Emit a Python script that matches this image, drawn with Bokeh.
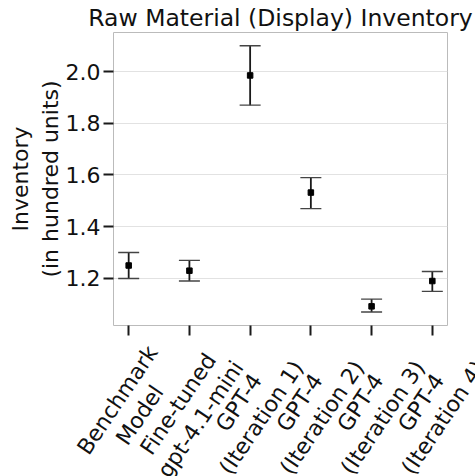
import math
from bokeh.plotting import figure
from bokeh.layouts import column, row
from bokeh.models import ColumnDataSource, Whisker, TeeHead, FixedTicker, Range1d
from bokeh.core.properties import value
from bokeh.embed import file_html
from bokeh.resources import INLINE

# Model variants and their mean inventory with confidence bounds (hundred units)
models = [
    "Benchmark\nModel",
    "Fine-tuned\ngpt-4.1-mini",
    "GPT-4\n(Iteration 1)",
    "GPT-4\n(Iteration 2)",
    "GPT-4\n(Iteration 3)",
    "GPT-4\n(Iteration 4)",
]
mean_inventory = [1.25, 1.23, 1.985, 1.532, 1.092, 1.19]
upper_bound = [1.30, 1.27, 2.10, 1.59, 1.12, 1.227]
lower_bound = [1.20, 1.19, 1.87, 1.47, 1.07, 1.15]
y_ticks = [1.2, 1.4, 1.6, 1.8, 2.0]

FONT = "DejaVu Sans"
LABEL_PX = 22
TITLE_PX = 23.5
ANGLE = 56  # degrees, category label rotation
LINE_PITCH = 27  # px between the lines of a category label

W = 475
TOP_H, BOTTOM_H = 340, 136
BORDER_L, BORDER_R, BORDER_T, BORDER_B = 113, 28, 32, 15

# approximate DejaVu Sans advance widths (em) used to size the rotated labels
_EM = {
    " ": .318, "(": .390, ")": .390, "-": .361, ".": .318,
    "B": .686, "F": .575, "G": .775, "I": .295, "M": .863, "P": .603, "T": .611,
    "a": .613, "c": .550, "d": .635, "e": .615, "g": .635, "h": .634, "i": .278,
    "k": .579, "l": .278, "m": .974, "n": .634, "o": .612, "p": .635, "r": .411,
    "t": .392, "u": .634,
}


def text_width(s, px):
    return sum(_EM.get(ch, .636) for ch in s) * px


xs = list(range(len(models)))
src = ColumnDataSource(dict(x=xs, mean=mean_inventory, upper=upper_bound, lower=lower_bound))

x_lo, x_hi = -0.25, len(models) - 0.75
y_lo, y_hi = 1.018, 2.151

# ---- main panel: error bars ----
p = figure(
    width=W, height=TOP_H,
    output_backend="svg", toolbar_location=None,
    x_range=Range1d(x_lo, x_hi),
    y_range=Range1d(y_lo, y_hi),
    title="Raw Material (Display) Inventory",
    min_border_left=BORDER_L, min_border_right=BORDER_R,
    min_border_top=BORDER_T, min_border_bottom=BORDER_B,
)

p.title.text_font = FONT
p.title.text_font_size = f"{TITLE_PX}px"
p.title.text_font_style = "normal"
p.title.text_color = "#111111"
p.title.align = "center"
p.title.standoff = 2
p.title.offset = 4

p.outline_line_color = "#bbbbbb"
p.outline_line_width = 1
p.background_fill_color = "white"
p.border_fill_color = "white"

p.xgrid.grid_line_color = None
p.ygrid.grid_line_color = "#e2e2e2"
p.ygrid.grid_line_width = 1

whisker = Whisker(
    base="x", upper="upper", lower="lower", source=src,
    line_color="#1a1a1a", line_width=1.8,
    upper_head=TeeHead(size=21, line_color="#444444", line_width=1.4),
    lower_head=TeeHead(size=21, line_color="#444444", line_width=1.4),
)
p.add_layout(whisker)
p.scatter("x", "mean", source=src, marker="square", size=5.5, color="black")

for ax in (p.xaxis[0], p.yaxis[0]):
    ax.axis_line_color = None
    ax.major_tick_line_color = "#1a1a1a"
    ax.major_tick_line_width = 2
    ax.major_tick_out = 10
    ax.major_tick_in = 0
    ax.minor_tick_line_color = None
    ax.major_label_text_font = FONT
    ax.major_label_text_font_size = f"{LABEL_PX}px"
    ax.major_label_text_color = "#111111"

# x tick marks only; the category names are drawn centred in the strip below
p.xaxis.ticker = FixedTicker(ticks=xs)
p.xaxis.major_label_overrides = {i: "" for i in xs}
p.xaxis.major_label_text_font_size = "1px"
p.xaxis.major_label_standoff = 0

p.yaxis.ticker = FixedTicker(ticks=y_ticks)
p.yaxis.major_label_overrides = {t: f"{t:.1f}" for t in y_ticks}
p.yaxis.major_label_standoff = 3
p.yaxis.axis_label = "Inventory\n(in hundred units)"
p.yaxis.axis_label_text_font = FONT
p.yaxis.axis_label_text_font_size = f"{LABEL_PX}px"
p.yaxis.axis_label_text_font_style = "normal"
p.yaxis.axis_label_text_color = "#111111"
p.yaxis.axis_label_standoff = 0

# ---- label strip: full-width frame on the same x scale as the main panel ----
ppu = (W - BORDER_L - BORDER_R) / (x_hi - x_lo)
strip = figure(
    width=W, height=BOTTOM_H,
    output_backend="svg", toolbar_location=None,
    x_range=Range1d(x_lo - BORDER_L / ppu, x_hi + BORDER_R / ppu),
    y_range=Range1d(0, BOTTOM_H),
    x_axis_type=None, y_axis_type=None,
    min_border_left=0, min_border_right=0,
    min_border_top=0, min_border_bottom=0,
)
strip.grid.visible = False
strip.outline_line_color = None
strip.background_fill_color = "white"
strip.border_fill_color = "white"

# each label is a centred block of lines, rotated; its bounding box is centred
# under the tick and hangs just below the tick marks
theta = math.radians(ANGLE)
down = (math.sin(theta), -math.cos(theta))  # "next line" direction, y up
gap_top = 0
line_x, line_y, line_text = [], [], []
for i, name in enumerate(models):
    lines = name.split("\n")
    n = len(lines)
    w = max(text_width(s, LABEL_PX) for s in lines)
    h = n * LINE_PITCH
    box_h = w * math.sin(theta) + h * math.cos(theta)
    cy = BOTTOM_H - gap_top - box_h / 2
    for k, s in enumerate(lines):
        off = (k - (n - 1) / 2) * LINE_PITCH
        line_x.append(i + off * down[0] / ppu)
        line_y.append(cy + off * down[1])
        line_text.append(s)

strip.text(
    x=line_x, y=line_y, text=line_text, angle=ANGLE, angle_units="deg",
    text_align="center", text_baseline="middle",
    text_font=value(FONT), text_font_size=f"{LABEL_PX}px", text_color="#111111",
)

layout = column(p, row(strip, spacing=0), spacing=0)
open("out.html", "w").write(file_html(layout, INLINE))
